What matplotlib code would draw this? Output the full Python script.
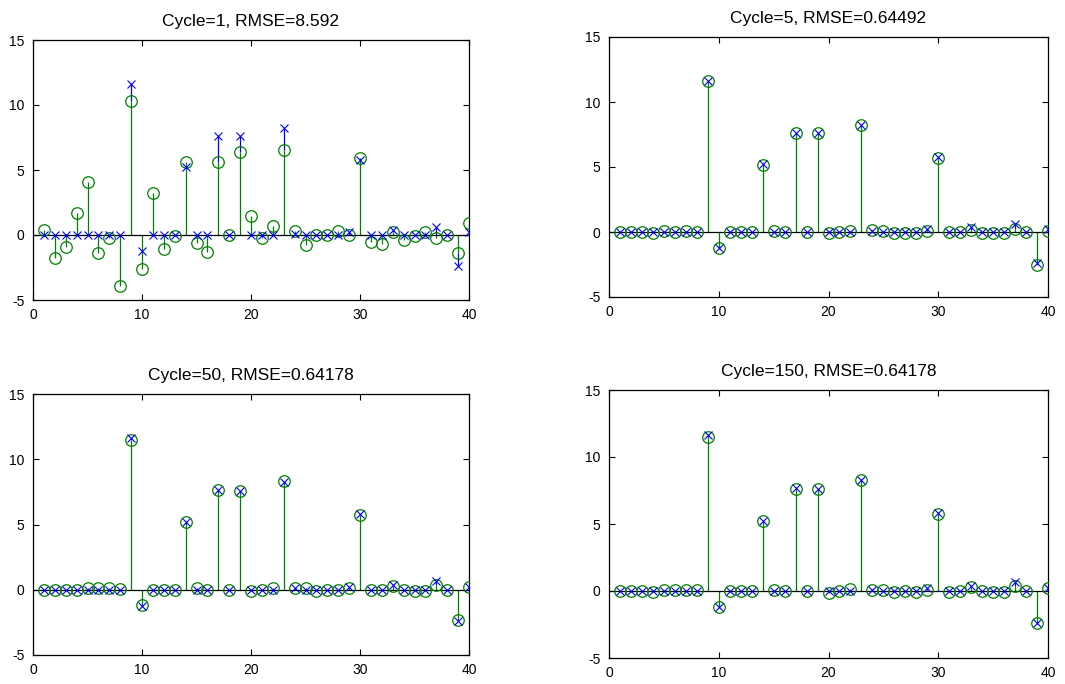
import numpy as np
import matplotlib
matplotlib.use("Agg")
import matplotlib.pyplot as plt

plt.rcParams['font.family'] = ['Liberation Sans', 'DejaVu Sans']
plt.rcParams['axes.unicode_minus'] = False

# sample index
n = np.arange(1, 41)

# original sparse signal
x_true = [0, 0, 0, 0, 0, 0, 0, 0, 11.65, -1.22,
          0, 0, 0, 5.2, 0, 0, 7.65, 0, 7.6, 0,
          0, 0, 8.25, 0.1, 0, 0, 0, 0, 0.2, 5.8,
          0, 0, 0.4, 0, 0, 0, 0.65, 0, -2.4, 0.2]

# reconstructions after a given number of cycles
x_cycle1 = [0.38, -1.8, -0.9, 1.7, 4.05, -1.4, -0.25, -3.95, 10.3, -2.6,
            3.2, -1.08, -0.05, 5.6, -0.6, -1.28, 5.6, 0.0, 6.36, 1.5,
            -0.2, 0.67, 6.54, 0.33, -0.8, 0.0, 0.0, 0.3, 0.0, 5.9,
            -0.56, -0.7, 0.2, -0.36, -0.05, 0.2, -0.2, 0.0, -1.4, 0.92]

x_cycle5 = [0.0, 0.0, 0.0, -0.05, 0.1, 0.0, 0.1, 0.0, 11.58, -1.2,
            0.0, 0.0, 0.0, 5.14, 0.1, 0.0, 7.6, 0.0, 7.6, -0.1,
            0.0, 0.1, 8.2, 0.13, 0.05, -0.1, -0.05, -0.05, 0.05, 5.67,
            0.0, 0.0, 0.15, -0.05, -0.1, -0.05, 0.2, 0.0, -2.5, 0.1]

x_cycle50 = [0.0, 0.0, 0.0, -0.05, 0.1, 0.1, 0.1, 0.05, 11.5, -1.19,
             0.0, 0.0, 0.0, 5.2, 0.1, 0.0, 7.65, 0.0, 7.58, -0.12,
             0.0, 0.15, 8.33, 0.1, 0.1, -0.1, 0.0, -0.05, 0.1, 5.76,
             -0.05, 0.0, 0.3, 0.0, -0.1, -0.1, 0.4, 0.0, -2.32, 0.2]

x_cycle150 = [0.0, 0.0, 0.0, -0.05, 0.1, 0.1, 0.1, 0.05, 11.5, -1.19,
              0.0, 0.0, 0.0, 5.19, 0.1, 0.0, 7.6, 0.0, 7.58, -0.12,
              0.0, 0.15, 8.25, 0.1, 0.1, -0.1, 0.0, -0.05, 0.1, 5.73,
              -0.05, 0.0, 0.3, 0.0, -0.1, -0.1, 0.4, 0.0, -2.4, 0.2]

titles = ["Cycle=1, RMSE=8.592", "Cycle=5, RMSE=0.64492",
          "Cycle=50, RMSE=0.64178", "Cycle=150, RMSE=0.64178"]
estimates = [x_cycle1, x_cycle5, x_cycle50, x_cycle150]

xticks = [0, 10, 20, 30, 40]
yticks = [-5, 0, 5, 10, 15]

W, H = 1065, 684
fig = plt.figure(figsize=(W / 100, H / 100), dpi=100)
fig.patch.set_facecolor('white')


def px_rect(left, right, top, bottom):
    return [left / W, 1 - bottom / H, (right - left) / W, (bottom - top) / H]


rects = [px_rect(33, 469, 40, 300), px_rect(609, 1048, 37, 297),
         px_rect(33, 469, 394, 655), px_rect(609, 1048, 390, 658)]

blue = (0, 0, 1)
green = (0, 0.5, 0)
stem_lw = 0.9


def visible_start(t, e):
    """Where the blue stem emerges from under the green one."""
    if t * e > 0 and abs(e) < abs(t):
        return e
    if t * e > 0:
        return t
    return 0.0


for rect, est, title in zip(rects, estimates, titles):
    ax = fig.add_axes(rect)
    # true signal: blue stems (the part not hidden by the green stem)
    starts = [visible_start(t, e) for t, e in zip(x_true, est)]
    ax.vlines(n, starts, x_true, color=blue, lw=stem_lw, zorder=2)
    ax.plot(n, x_true, ls='none', marker='x', color=blue, ms=5.5,
            mew=0.8, zorder=5)
    # reconstruction: green stems with open circles
    ax.vlines(n, 0, est, color=green, lw=stem_lw, zorder=3)
    ax.plot(n, est, ls='none', marker='o', mfc='none', mec=green,
            ms=8.3, mew=0.9, zorder=4)
    ax.axhline(0, color='black', lw=0.9, zorder=3.5)

    ax.set_xlim(0, 40)
    ax.set_ylim(-5, 15)
    ax.set_xticks(xticks)
    ax.set_yticks(yticks)
    ax.tick_params(direction='in', length=4, width=0.8, top=True,
                   right=True, labelsize=10, pad=6, colors='black')
    for s in ax.spines.values():
        s.set_linewidth(0.9)
        s.set_color('black')
    ax.set_title(title, fontsize=12.5, pad=10)

fig.savefig("out.png", dpi=100, facecolor='white')
